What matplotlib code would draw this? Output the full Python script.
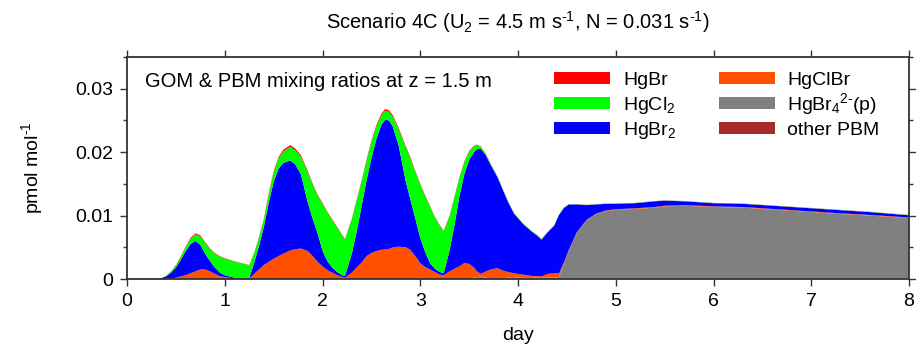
import numpy as np
import matplotlib
matplotlib.use("Agg")
import matplotlib.pyplot as plt
from matplotlib.patches import Rectangle
from matplotlib.ticker import MultipleLocator

plt.rcParams['font.family'] = ['Liberation Sans', 'DejaVu Sans']
plt.rcParams['mathtext.fontset'] = 'custom'
plt.rcParams['mathtext.rm'] = 'Liberation Sans'
plt.rcParams['mathtext.it'] = 'Liberation Sans'

# time (days)
day = [0, 0.3, 0.35, 0.4, 0.45, 0.5, 0.55, 0.6, 0.65, 0.7, 0.75, 0.8, 0.85, 0.9, 0.95, 1.0, 1.1, 1.2, 1.25,
       1.3, 1.35, 1.4, 1.45, 1.5, 1.55, 1.6, 1.67, 1.72, 1.78, 1.85, 1.9, 1.95, 2.0, 2.05, 2.1, 2.15, 2.2, 2.23,
       2.3, 2.35, 2.4, 2.45, 2.5, 2.55, 2.6, 2.64, 2.68, 2.72, 2.78, 2.85, 2.9, 2.95, 3.0, 3.05, 3.1, 3.15, 3.2, 3.24,
       3.3, 3.35, 3.4, 3.45, 3.5, 3.55, 3.58, 3.62, 3.67, 3.72, 3.79, 3.85, 3.9, 3.96, 4.05, 4.13, 4.2, 4.24,
       4.3, 4.37, 4.42, 4.47,
       4.52, 4.6, 4.7, 4.8, 4.9, 5.0, 5.2, 5.4, 5.5, 5.7, 6.0, 6.3, 6.6, 7.0, 7.3, 7.6, 8.0]

# mixing ratios in units of 1e-3 pmol/mol
hgbr = [0, 0, .01, .02, .05, .08, .1, .12, .15, .15, .15, .12, .1, .08, .07, .06, .05, .05, .05,
        .08, .12, .15, .18, .2, .22, .25, .25, .25, .22, .2, .18, .15, .14, .12, .11, .1, .1, .1,
        .12, .15, .18, .2, .22, .24, .25, .25, .25, .25, .22, .2, .18, .17, .15, .14, .12, .1, .1, .1,
        .1, .12, .12, .12, .1, .1, .08, .06, .05, .05, .04, .04, .03, .03, .03, .03, .03, .03,
        .03, .03, .03, .03,
        .02, .02, .02, .02, .02, .02, .02, .02, .02, .02, .02, .02, .02, .02, .02, .02, .02]
hgcl2 = [0, 0, .02, .06, .15, .32, .5, .6, .85, 1.05, 1.35, 1.68, 1.9, 2.22, 2.53, 2.64, 2.55, 2.3, 2.05,
         1.52, 1.28, 1.15, 1.32, 1.5, 1.58, 1.85, 2.15, 2.25, 2.78, 4.8, 5.32, 5.95, 7.36, 7.68, 7.49, 7.0, 6.3, 5.7,
         5.38, 4.85, 3.82, 3.1, 2.58, 1.96, 1.55, 1.45, 1.35, 1.55, 2.58, 5.3, 6.52, 7.33, 8.35, 8.76, 8.88, 8.1, 7.3, 6.6,
         5.4, 4.38, 2.88, 1.88, 1.3, .9, .62, .34, .2, .15, .11, .08, .07, .07, .07, .07, .07, .07,
         .07, .07, .07, .07,
         .03, .03, .03, .03, .03, .03, .03, .03, .03, .03, .03, .03, .03, .03, .03, .03, .03]
hgbr2 = [0, 0, .12, .4, .92, 1.6, 2.6, 3.8, 4.6, 4.8, 3.9, 2.5, 1.6, 1.0, .55, .3, .1, .05, .05,
         1.7, 3.7, 6.0, 9.3, 12.1, 13.8, 14.3, 14.2, 13.4, 11.7, 7.6, 5.9, 4.5, 2.5, 1.4, .8, .5, .25, .3,
         3.0, 5.7, 8.9, 11.9, 14.9, 17.6, 19.6, 20.45, 20.25, 19.0, 15.9, 10.5, 7.9, 5.9, 4.0, 2.4, 1.0, .5, .4, .3,
         3.3, 6.9, 11.0, 14.0, 16.4, 18.2, 19.3, 19.7, 18.35, 16.5, 14.35, 12.58, 11.0, 9.4, 8.0, 7.1, 6.35, 5.8,
         6.5, 7.5, 9.2, 8.6,
         7.15, 4.45, 2.35, 1.45, 1.05, .85, .8, .9, .8, .6, .5, .5, .5, .5, .5, .45, .35]
hgclbr = [0, 0, 0, .02, .08, .2, .4, .6, .9, 1.2, 1.5, 1.5, 1.2, .8, .45, .3, .1, 0, .05,
          .8, 1.5, 2.2, 2.7, 3.2, 3.6, 4.0, 4.5, 4.7, 4.8, 4.4, 3.6, 2.7, 2.0, 1.4, 1.0, .6, .35, .2,
          1.0, 1.8, 2.6, 3.6, 4.1, 4.4, 4.6, 4.65, 4.75, 5.0, 5.1, 5.0, 4.6, 3.6, 2.5, 1.9, 1.5, 1.1, .7, .6,
          1.2, 1.6, 2.0, 2.5, 2.4, 1.6, .9, .4, 1.0, 1.4, 1.6, 1.2, .9, .7, .4, .2, .25, .2,
          .6, .7, .6, .1,
          .1, .1, .1, .1, .1, .1, .1, .1, .1, .1, .1, .1, .1, .1, .1, .1, .1]
hgbr4_p = [0, 0, 0, 0, 0, 0, 0, 0, 0, 0, 0, 0, 0, 0, 0, 0, 0, 0, 0,
           0, 0, 0, 0, 0, 0, 0, 0, 0, 0, 0, 0, 0, 0, 0, 0, 0, 0, 0,
           0, 0, 0, 0, 0, 0, 0, 0, 0, 0, 0, 0, 0, 0, 0, 0, 0, 0, 0, 0,
           0, 0, 0, 0, 0, .2, .3, .4, .2, .1, .1, .1, .2, .2, .3, .3, .2, .2,
           .2, .2, .3, 2.45,
           4.45, 7.15, 9.15, 10.15, 10.65, 10.85, 11.0, 11.2, 11.4, 11.5, 11.3, 11.2, 10.9, 10.5, 10.2, 9.95, 9.55]
other_pbm = [0, 0, 0, 0, 0, 0, 0, 0, 0, 0, 0, 0, 0, 0, 0, 0, 0, 0, 0,
             0, 0, 0, 0, 0, 0, 0, 0, 0, 0, 0, 0, 0, 0, 0, 0, 0, 0, 0,
             0, 0, 0, 0, 0, 0, 0, 0, 0, 0, 0, 0, 0, 0, 0, 0, 0, 0, 0, 0,
             0, 0, 0, 0, 0, 0, 0, 0, 0, 0, 0, 0, 0, 0, 0, 0, 0, 0,
             0, 0, 0, .05,
             .05, .05, .05, .05, .05, .05, .05, .05, .05, .05, .05, .05, .05, .05, .05, .05, .05]

labels = ['other PBM', r'HgBr$_4$$^{2\text{-}}$(p)', 'HgClBr', r'HgBr$_2$', r'HgCl$_2$', 'HgBr']
colors = ['#a52a2a', '#808080', '#ff5000', '#0000ff', '#00ff00', '#ff0000']

series = [np.array(s) * 1e-3 for s in (other_pbm, hgbr4_p, hgclbr, hgbr2, hgcl2, hgbr)]

W, H = 916, 345
fig = plt.figure(figsize=(W / 100, H / 100), dpi=100)
ax = fig.add_axes([127 / W, 1 - 279 / H, (909 - 127) / W, (279 - 57) / H])
ax.stackplot(day, *series, colors=colors, linewidth=0)

ax.set_xlim(0, 8)
ax.set_ylim(0, 0.035)
ax.xaxis.set_major_locator(MultipleLocator(1))
ax.yaxis.set_minor_locator(MultipleLocator(0.005))
ax.set_yticks([0, 0.01, 0.02, 0.03])
ax.set_yticklabels(['0', '0.01', '0.02', '0.03'])
FS = 14
ax.tick_params(which='both', direction='out', top=True, right=True, labelsize=FS,
               color='#333333', width=1.0)
ax.tick_params(which='major', length=5, pad=5)
ax.tick_params(which='minor', length=3)
for sp in ax.spines.values():
    sp.set_linewidth(1.3)
    sp.set_color('#333333')

ax.set_xlabel('day', fontsize=FS, labelpad=12)
ax.set_ylabel(r'pmol mol$^{\text{-}1}$', fontsize=FS, labelpad=22)
ax.set_title(r'Scenario 4C (U$_2$ = 4.5 m s$^{\text{-}1}$, N = 0.031 s$^{\text{-}1}$)',
             fontsize=14.5, pad=20)


def fx(px):
    return px / W


def fy(py):
    return 1 - py / H


fig.text(fx(145), fy(87), 'GOM & PBM mixing ratios at z = 1.5 m', fontsize=14.5,
         va='baseline', ha='left')

# legend (two columns, drawn at fixed pixel positions)
order = [5, 4, 3, 2, 1, 0]
col_x = [(554, 610, 623), (719, 775, 787)]
row_y = [78, 103, 128]
for k, i in enumerate(order):
    c = k // 3
    r = k % 3
    x0, x1, xt = col_x[c]
    yc = row_y[r]
    fig.patches.append(Rectangle((fx(x0), fy(yc + 6)), fx(x1 - x0), (12) / H,
                                 transform=fig.transFigure, facecolor=colors[i],
                                 edgecolor='none', figure=fig))
    fig.text(fx(xt), fy(yc + 7), labels[i], fontsize=FS, va='baseline', ha='left')

fig.savefig('out.png', dpi=100)
